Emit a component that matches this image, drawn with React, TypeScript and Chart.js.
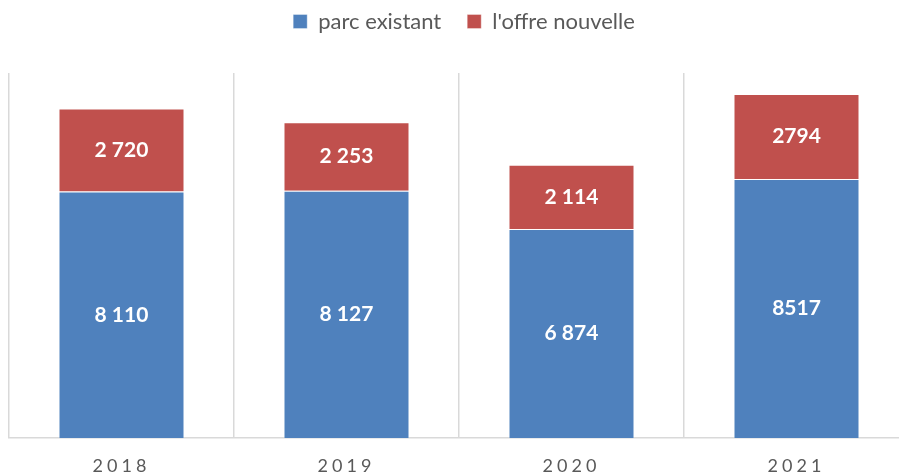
import React, { useEffect, useRef } from 'react';
import { Chart, registerables, CategoryScale } from 'chart.js';

Chart.register(...registerables);

const categories = ['2018', '2019', '2020', '2021'];
const seriesNames = ['parc existant', "l'offre nouvelle"];
const parcExistant = [8110, 8127, 6874, 8517];
const offreNouvelle = [2720, 2253, 2114, 2794];
const parcLabels = ['8 110', '8 127', '6 874', '8517'];
const offreLabels = ['2 720', '2 253', '2 114', '2794'];
const yMin = 0;
const yMax = 12000;

class SpacedCategoryScale extends CategoryScale {
  static id = 'spacedCategory';
  drawLabels(area: any) {
    const ctx: any = this.ctx;
    ctx.save();
    ctx.letterSpacing = '4px';
    // @ts-ignore
    super.drawLabels(area);
    ctx.restore();
  }
}
Chart.register(SpacedCategoryScale as any);

const FONT = 'Lato';

const legendAdjust = {
  id: 'legendAdjust',
  afterLayout(chart: any) {
    const lg = chart.legend;
    if (!lg) return;
    lg.left += 5;
    lg.right += 5;
    lg.top -= 30.5;
    lg.bottom -= 30.5;
  },
};

const segmentLabels = {
  id: 'segmentLabels',
  afterDatasetsDraw(chart: any) {
    const ctx = chart.ctx;
    const texts = [parcLabels, offreLabels];
    ctx.save();
    ctx.fillStyle = '#ffffff';
    ctx.font = `bold 21px ${FONT}`;
    ctx.textAlign = 'center';
    ctx.textBaseline = 'middle';
    chart.data.datasets.forEach((_: any, di: number) => {
      const meta = chart.getDatasetMeta(di);
      meta.data.forEach((el: any, i: number) => {
        const y = (el.y + el.base) / 2;
        ctx.fillText(texts[di][i], el.x, y);
      });
    });
    ctx.restore();
  },
};

export default function App() {
  const ref = useRef<HTMLCanvasElement | null>(null);
  useEffect(() => {
    let chart: Chart | null = null;
    let cancelled = false;
    const make = () => {
      if (cancelled || !ref.current) return;
      chart = new Chart(ref.current, {
        type: 'bar',
        data: {
          labels: categories,
          datasets: [
            {
              label: seriesNames[0],
              data: parcExistant,
              backgroundColor: '#4F81BD',
              borderColor: 'rgba(255,255,255,0.35)',
              borderWidth: 1,
              barPercentage: 1,
              categoryPercentage: 0.56,
            },
            {
              label: seriesNames[1],
              data: offreNouvelle,
              backgroundColor: '#C0504D',
              borderColor: 'rgba(255,255,255,0.35)',
              borderWidth: 1,
              barPercentage: 1,
              categoryPercentage: 0.56,
            },
          ],
        },
        options: {
          responsive: false,
          animation: false,
          layout: { padding: { left: 9, right: 1, top: 15, bottom: -19 } },
          plugins: {
            legend: {
              position: 'top',
              labels: {
                boxWidth: 14,
                boxHeight: 14,
                padding: 26,
                color: '#595959',
                font: { family: FONT, size: 22 },
              },
            },
            tooltip: { enabled: false },
          },
          scales: {
            x: {
              type: 'spacedCategory' as any,
              stacked: true,
              grid: {
                display: true,
                offset: true,
                drawTicks: false,
                color: '#d9d9d9',
                lineWidth: 1.5,
              },
              border: { display: true, color: '#d9d9d9', width: 1.5 },
              ticks: {
                color: '#595959',
                padding: 18,
                font: { family: FONT, size: 18, lineHeight: 1.1 },
              },
            },
            y: {
              display: false,
              stacked: true,
              min: yMin,
              max: yMax,
            },
          },
        },
        plugins: [legendAdjust, segmentLabels],
      });
    };
    const fonts: any = (document as any).fonts;
    if (fonts && fonts.load) {
      Promise.all([
        fonts.load(`22px ${FONT}`),
        fonts.load(`bold 21px ${FONT}`),
      ]).then(make, make);
    } else {
      make();
    }
    return () => {
      cancelled = true;
      if (chart) chart.destroy();
    };
  }, []);
  return (
    <div style={{ position: 'absolute', left: 0, top: 0, width: 899, height: 475, overflow: 'hidden', background: '#fff' }}>
      <canvas ref={ref} width={910} height={475} style={{ display: 'block' }} />
    </div>
  );
}
